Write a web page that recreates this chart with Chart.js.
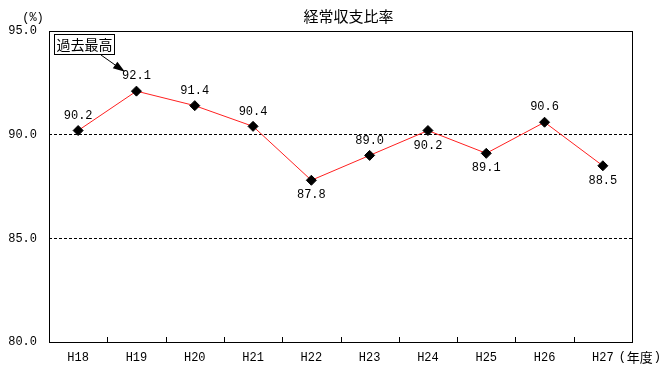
<!DOCTYPE html>
<html><head><meta charset="utf-8">
<script src="https://cdn.jsdelivr.net/npm/chart.js@4"></script>
<style>html,body{margin:0;padding:0;background:#fff}#w{width:670px;height:376px}</style>
</head><body><div id="w"><canvas id="c"></canvas></div>
<script>
const categories = ['H18','H19','H20','H21','H22','H23','H24','H25','H26','H27'];
const ratio = [90.2, 92.1, 91.4, 90.4, 87.8, 89.0, 90.2, 89.1, 90.6, 88.5];
const labelSide = ['up','up','up','up','down','up','down','down','up','down'];
const yTicks = [80, 85, 90, 95];
const title = '経常収支比率';
const unitLabel = '(%)';
const note = '過去最高';
const FONT = '"Liberation Mono", "Noto Sans CJK JP", monospace';
const JFONT = '"Noto Sans CJK JP", sans-serif';

const deco = {
  id: 'deco',
  afterDraw(chart) {
    const ctx = chart.ctx, a = chart.chartArea, x = chart.scales.x;
    ctx.save();
    ctx.strokeStyle = '#000'; ctx.lineWidth = 1; ctx.setLineDash([]);
    ctx.strokeRect(Math.round(a.left)+0.5, Math.round(a.top)+0.5, Math.round(a.right-a.left), Math.round(a.bottom-a.top));
    const step = x.getPixelForValue(1) - x.getPixelForValue(0);
    for (let i = 1; i < categories.length; i++) {
      const px = Math.round(x.getPixelForValue(i) - step/2) + 0.5;
      ctx.beginPath(); ctx.moveTo(px, a.bottom); ctx.lineTo(px, a.bottom - 5); ctx.stroke();
    }
    ctx.fillStyle = '#000';
    ctx.font = '15px ' + JFONT; ctx.textAlign = 'center'; ctx.textBaseline = 'middle';
    ctx.fillText(title, (a.left + a.right)/2 + 8, 16);
    ctx.font = '12px ' + FONT;
    ctx.fillText(unitLabel, 33, 18);
    ctx.textAlign = 'left';
    const lx = x.getPixelForValue(categories.length-1), ly = a.bottom + 15;
    ctx.fillText('(', lx + 16, ly);
    ctx.font = '13px ' + JFONT;
    ctx.fillText('年度', lx + 24, ly);
    ctx.font = '12px ' + FONT;
    ctx.fillText(')', lx + 51, ly);
    ctx.textAlign = 'center';
    const meta = chart.getDatasetMeta(0);
    meta.data.forEach((p, i) => {
      const dy = labelSide[i] === 'up' ? -15 : 15;
      ctx.fillText(ratio[i].toFixed(1), p.x, p.y + dy);
    });
    const p1 = meta.data[1];
    ctx.font = '14px ' + JFONT;
    const bx = a.left + 5, by = a.top + 3, bw = 60, bh = 20;
    ctx.fillStyle = '#fff'; ctx.fillRect(bx, by, bw, bh);
    ctx.strokeRect(bx + 0.5, by + 0.5, bw, bh);
    ctx.fillStyle = '#000';
    ctx.fillText(note, bx + bw/2 + 0.5, by + bh/2 + 1);
    const sx = 101, sy = by + bh + 1, ex = p1.x - 14, ey = p1.y - 21;
    ctx.beginPath(); ctx.moveTo(sx, sy); ctx.lineTo(ex, ey); ctx.stroke();
    const ang = Math.atan2(ey - sy, ex - sx);
    ctx.beginPath();
    ctx.moveTo(ex + 3*Math.cos(ang), ey + 3*Math.sin(ang));
    ctx.lineTo(ex - 9*Math.cos(ang) + 4*Math.sin(ang), ey - 9*Math.sin(ang) - 4*Math.cos(ang));
    ctx.lineTo(ex - 9*Math.cos(ang) - 4*Math.sin(ang), ey - 9*Math.sin(ang) + 4*Math.cos(ang));
    ctx.closePath(); ctx.fill();
    ctx.restore();
  }
};

new Chart(document.getElementById('c'), {
  type: 'line',
  data: {
    labels: categories,
    datasets: [{
      data: ratio,
      borderColor: '#ff2020',
      borderWidth: 1,
      pointStyle: 'rectRot',
      pointRadius: 5,
      pointHoverRadius: 5,
      pointBackgroundColor: '#000',
      pointBorderColor: '#000',
      tension: 0
    }]
  },
  options: {
    responsive: true, maintainAspectRatio: false, animation: false,
    layout: { padding: { top: 31, right: 38, left: 0, bottom: 0 } },
    plugins: { legend: { display: false }, tooltip: { enabled: false } },
    scales: {
      x: {
        offset: true,
        grid: { display: false },
        border: { display: false },
        ticks: { color: '#000', font: { family: FONT, size: 12 }, maxRotation: 0, padding: 1 },
        afterFit(s) { s.height = 34; }
      },
      y: {
        min: 80, max: 95,
        afterBuildTicks(s) { s.ticks = yTicks.map(v => ({ value: v })); },
        grid: {
          drawTicks: false,
          color: c => (c.tick && (c.tick.value === 85 || c.tick.value === 90)) ? '#000' : 'rgba(0,0,0,0)',
          lineWidth: 1
        },
        border: { display: false, dash: [3, 2] },
        ticks: { color: '#000', font: { family: FONT, size: 12 }, padding: 12, callback: v => Number(v).toFixed(1) },
        afterFit(s) { s.width = 49; }
      }
    }
  },
  plugins: [deco]
});
</script>
</body></html>
